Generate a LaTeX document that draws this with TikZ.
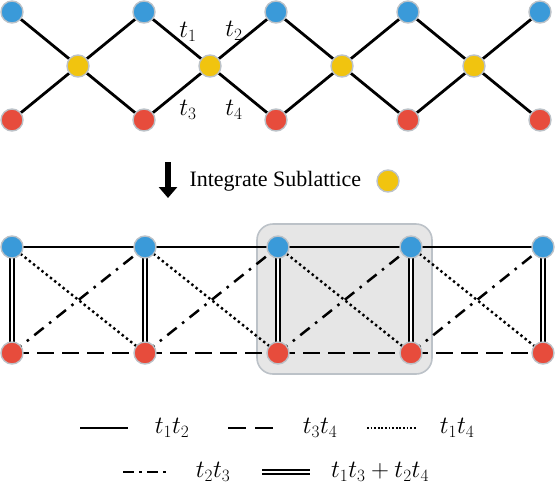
\documentclass[tikz,border=0pt]{standalone}
\usepackage{fontspec}
\setmainfont{Liberation Serif}
\usetikzlibrary{arrows.meta,positioning}
\definecolor{siteblue}{HTML}{3A9AD9}
\definecolor{sitered}{HTML}{E74C3C}
\definecolor{siteyellow}{HTML}{F1C40F}
\definecolor{siteedge}{HTML}{BCC2C8}
\definecolor{cellfill}{HTML}{E6E6E6}
\tikzset{
  site/.style={circle, draw=siteedge, line width=1.4pt, minimum size=22pt, inner sep=0pt},
  bsite/.style={site, fill=siteblue},
  rsite/.style={site, fill=sitered},
  ysite/.style={site, fill=siteyellow},
  hop/.style={line width=2.8pt},
  hopa/.style={line width=2.5pt},
  hopb/.style={line width=2.6pt, dash pattern=on 17pt off 8pt},
  hopc/.style={line width=2.4pt, dash pattern=on 2.4pt off 3pt},
  hopd/.style={line width=2.5pt, dash pattern=on 12pt off 7pt on 2.5pt off 7pt},
  hope/.style={double, line width=1.7pt, double distance=2.2pt},
  hoplabel/.style={font=\fontsize{25}{28}\selectfont},
  legendlabel/.style={font=\fontsize{25}{28}\selectfont}
}
\begin{document}
\begin{tikzpicture}[x=1pt, y=-1pt]
  \useasboundingbox (0,0) rectangle (556,490);

  % original lattice with the yellow sublattice
  \foreach \i/\px in {0/12,1/144,2/276,3/408,4/540} {
    \node[bsite] (b\i) at (\px,12) {};
    \node[rsite] (r\i) at (\px,120) {};
  }
  \foreach \i/\px in {0/78,1/210,2/342,3/474} {
    \node[ysite] (y\i) at (\px,66) {};
  }
  \foreach \i/\j in {0/1,1/2,2/3,3/4} {
    \draw[hop] (b\i) -- (y\i);
    \draw[hop] (y\i) -- (b\j);
    \draw[hop] (r\i) -- (y\i);
    \draw[hop] (y\i) -- (r\j);
  }
  \node[hoplabel] (ta) at (188,32) {$t_1$};
  \node[hoplabel] (tb) at (234,31) {$t_2$};
  \node[hoplabel] (tc) at (188,110) {$t_3$};
  \node[hoplabel] (td) at (234,110) {$t_4$};

  % integration step
  \coordinate (arrtop) at (168,162);
  \coordinate (arrbot) at (168,198);
  \draw[line width=5.5pt, -{Triangle[length=11pt, width=18pt]}] (arrtop) -- (arrbot);
  \node[font=\fontsize{22}{26}\selectfont, anchor=west] (step) at (186,181) {Integrate Sublattice};
  \node[ysite] (ykey) at (388,181) {};

  % effective lattice
  \draw[draw=siteedge, fill=cellfill, line width=1.6pt, rounded corners=16pt] (257,224) rectangle (432,374);
  \foreach \i/\px in {0/12,1/145,2/278,3/411,4/543} {
    \coordinate (cu\i) at (\px,247);
    \coordinate (cd\i) at (\px,353);
  }
  \foreach \i/\j in {0/1,1/2,2/3,3/4} {
    \draw[hopa] (cu\i) -- (cu\j);
    \draw[hopb] (cd\i) -- (cd\j);
    \draw[hopc] (cu\i) -- (cd\j);
    \draw[hopd] (cd\i) -- (cu\j);
  }
  \foreach \i in {0,...,4} {
    \draw[hope] (cu\i) -- (cd\i);
  }
  % sites on top of the connectors
  \foreach \i in {0,...,4} {
    \node[bsite] (u\i) at (cu\i) {};
    \node[rsite] (d\i) at (cd\i) {};
  }

  % legend
  \coordinate (la1) at (80,428);  \coordinate (la2) at (128,428);
  \coordinate (lb1) at (228,428); \coordinate (lb2) at (278,428);
  \coordinate (lc1) at (367,428); \coordinate (lc2) at (417,428);
  \coordinate (ld1) at (123,472); \coordinate (ld2) at (167,472);
  \coordinate (le1) at (262,472); \coordinate (le2) at (310,472);
  \draw[hopa] (la1) -- (la2);
  \draw[hopa, dash pattern=on 18pt off 9pt] (lb1) -- (lb2);
  \draw[line width=2pt, dash pattern=on 1.8pt off 1.8pt] (lc1) -- (lc2);
  \draw[line width=2.5pt, dash pattern=on 11pt off 5pt on 3pt off 5pt] (ld1) -- (ld2);
  \draw[hope] (le1) -- (le2);
  \node[legendlabel] (lta) at (172,428) {$t_1t_2$};
  \node[legendlabel] (ltb) at (320,428) {$t_3t_4$};
  \node[legendlabel] (ltc) at (457,428) {$t_1t_4$};
  \node[legendlabel] (ltd) at (213,472) {$t_2t_3$};
  \node[legendlabel] (lte) at (380,472) {$t_1t_3+t_2t_4$};
\end{tikzpicture}
\end{document}
